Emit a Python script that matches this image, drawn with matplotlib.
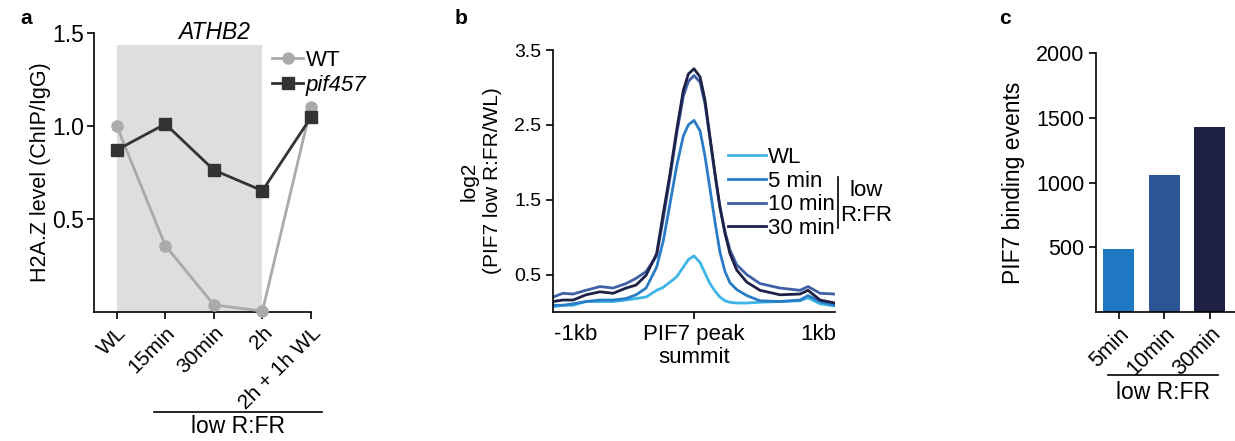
import matplotlib

matplotlib.use("Agg")
import matplotlib.pyplot as plt
import numpy as np

plt.rcParams.update({
    "font.family": ["Liberation Sans", "DejaVu Sans"],
    "font.size": 16,
    "axes.spines.right": False,
    "axes.spines.top": False,
    "axes.linewidth": 1.2,
    "xtick.major.width": 1.2,
    "ytick.major.width": 1.2,
    "xtick.major.size": 5,
    "ytick.major.size": 5,
})

# ---------------------------------------------------------------- data
# panel a
a_labels = ["WL", "15min", "30min", "2h", "2h + 1h WL"]
a_wt = [1.00, 0.357, 0.038, 0.005, 1.104]
a_pif = [0.871, 1.011, 0.763, 0.652, 1.047]

# panel b: profile around PIF7 peak summit (kb)
b_x = [-1.000, -0.929, -0.858, -0.766, -0.667, -0.574, -0.482, -0.411, -0.340, -0.265,
       -0.218, -0.170, -0.123, -0.076, -0.040, 0.000, 0.043, 0.078, 0.113, 0.149,
       0.184, 0.220, 0.255, 0.303, 0.374, 0.468, 0.610, 0.752, 0.809, 0.894, 1.000]
b_wl = [0.07, 0.09, 0.09, 0.14, 0.14, 0.14, 0.16, 0.18, 0.20, 0.29,
        0.33, 0.40, 0.47, 0.60, 0.70, 0.75, 0.66, 0.52, 0.38, 0.28,
        0.20, 0.15, 0.13, 0.12, 0.12, 0.13, 0.14, 0.15, 0.19, 0.11, 0.08]
b_5 = [0.09, 0.09, 0.11, 0.14, 0.16, 0.16, 0.18, 0.23, 0.32, 0.60,
       0.95, 1.45, 1.95, 2.35, 2.50, 2.56, 2.42, 2.08, 1.65, 1.20,
       0.80, 0.54, 0.39, 0.30, 0.22, 0.15, 0.14, 0.16, 0.22, 0.14, 0.09]
b_10 = [0.20, 0.25, 0.24, 0.29, 0.34, 0.32, 0.38, 0.45, 0.54, 0.75,
        1.25, 1.80, 2.38, 2.88, 3.08, 3.16, 3.07, 2.78, 2.32, 1.83,
        1.40, 1.07, 0.83, 0.63, 0.50, 0.38, 0.32, 0.29, 0.34, 0.25, 0.24]
b_30 = [0.14, 0.16, 0.16, 0.23, 0.27, 0.25, 0.32, 0.36, 0.49, 0.78,
        1.32, 1.85, 2.43, 2.96, 3.18, 3.25, 3.14, 2.83, 2.34, 1.85,
        1.40, 1.05, 0.78, 0.56, 0.40, 0.29, 0.23, 0.24, 0.29, 0.16, 0.12]
b_names = ["WL", "5 min", "10 min", "30 min"]
b_colors = ["#3db5e6", "#2a7cc7", "#3f5fa6", "#1e2148"]

# panel c
c_labels = ["5min", "10min", "30min"]
c_vals = [486, 1060, 1428]
c_colors = ["#1e78c2", "#2b5594", "#1e2045"]

fig = plt.figure(figsize=(12.35, 4.41), dpi=100)

# ---------------------------------------------------------------- panel a
ax = fig.add_axes([0.0761, 0.2925, 0.1757, 0.6327])
x = np.arange(len(a_labels))
ax.axvspan(0, 3, ymin=0, ymax=1.435 / 1.5, color="#dedede", lw=0, zorder=0)
ax.plot(x, a_wt, color="#aaaaaa", lw=2, marker="o", ms=8, label="WT", clip_on=False, zorder=3)
ax.plot(x, a_pif, color="#333333", lw=2, marker="s", ms=9, label="pif457", clip_on=False, zorder=4)
ax.set_xlim(-0.47, 4)
ax.set_ylim(0, 1.5)
ax.set_yticks([0.5, 1.0, 1.5])
ax.set_xticks(x)
ax.set_xticklabels(a_labels, rotation=45, ha="right", rotation_mode="anchor")
ax.tick_params(axis="y", labelsize=16.5, pad=2)
ax.tick_params(axis="x", labelsize=15, pad=3)
ax.set_ylabel("H2A.Z level (ChIP/IgG)", fontsize=15.5)
ax.yaxis.set_label_coords(-0.196, 0.5)
ax.text(2, 1.5, "ATHB2", style="italic", fontsize=16.5, ha="center", va="center")
leg = ax.legend(loc="upper left", bbox_to_anchor=(0.77, 0.98), frameon=False,
                handlelength=1.4, handletextpad=0.1, borderpad=0, labelspacing=0.2)
leg.get_texts()[1].set_style("italic")
ax.plot([0.276, 1.05], [-0.358, -0.358], color="black", lw=1.2, transform=ax.transAxes, clip_on=False)
ax.text(0.664, -0.41, "low R:FR", fontsize=16.5, transform=ax.transAxes, ha="center", va="center")

# ---------------------------------------------------------------- panel b
bx = fig.add_axes([0.4478, 0.2925, 0.2283, 0.5941])
for ys, name, col in zip([b_wl, b_5, b_10, b_30], b_names, b_colors):
    bx.plot(b_x, ys, color=col, lw=2, label=name)
bx.set_xlim(-1, 1)
bx.set_ylim(0, 3.5)
bx.set_yticks([0.5, 1.5, 2.5, 3.5])
bx.tick_params(axis="y", labelsize=14)
bx.set_xticks([-0.84, 0, 0.88])
bx.set_xticklabels(["-1kb", "PIF7 peak\nsummit", "1kb"], linespacing=1.15)
for i in (0, 2):
    bx.xaxis.get_major_ticks()[i].tick1line.set_visible(False)
bx.set_ylabel("log2\n(PIF7 low R:FR/WL)", fontsize=15, linespacing=1.3)
bx.yaxis.set_label_coords(-0.18, 0.5)
bx.legend(loc="upper left", bbox_to_anchor=(0.582, 0.672), frameon=False,
          handlelength=1.7, handletextpad=0.1, borderpad=0, labelspacing=0.12)
bx.plot([1.01, 1.01], [0.32, 0.515], color="black", lw=1.2, transform=bx.transAxes, clip_on=False)
bx.text(1.11, 0.416, "low\nR:FR", transform=bx.transAxes, ha="center", va="center", linespacing=1.3)

# ---------------------------------------------------------------- panel c
cx = fig.add_axes([0.8874, 0.2925, 0.1126, 0.5873])
xc = np.arange(len(c_labels))
cx.bar(xc, c_vals, width=0.68, color=c_colors)
cx.set_xlim(-0.5, 2.55)
cx.set_ylim(0, 2000)
cx.set_yticks([500, 1000, 1500, 2000])
cx.tick_params(labelsize=15.5)
cx.set_xticks(xc)
cx.set_xticklabels(c_labels, rotation=45, ha="right", rotation_mode="anchor")
cx.set_ylabel("PIF7 binding events", fontsize=16.5)
cx.yaxis.set_label_coords(-0.51, 0.5)
cx.plot([0.086, 0.878], [-0.243, -0.243], color="black", lw=1.2, transform=cx.transAxes, clip_on=False)
cx.text(0.48, -0.309, "low R:FR", fontsize=16.5, transform=cx.transAxes, ha="center", va="center")

# panel letters
for lbl, px, py in [("a", 26, 18), ("b", 461, 18), ("c", 1005, 19)]:
    fig.text(px / 1235, 1 - py / 441, lbl, weight="bold", fontsize=15, ha="center", va="center")

fig.savefig("out.png", dpi=100)
